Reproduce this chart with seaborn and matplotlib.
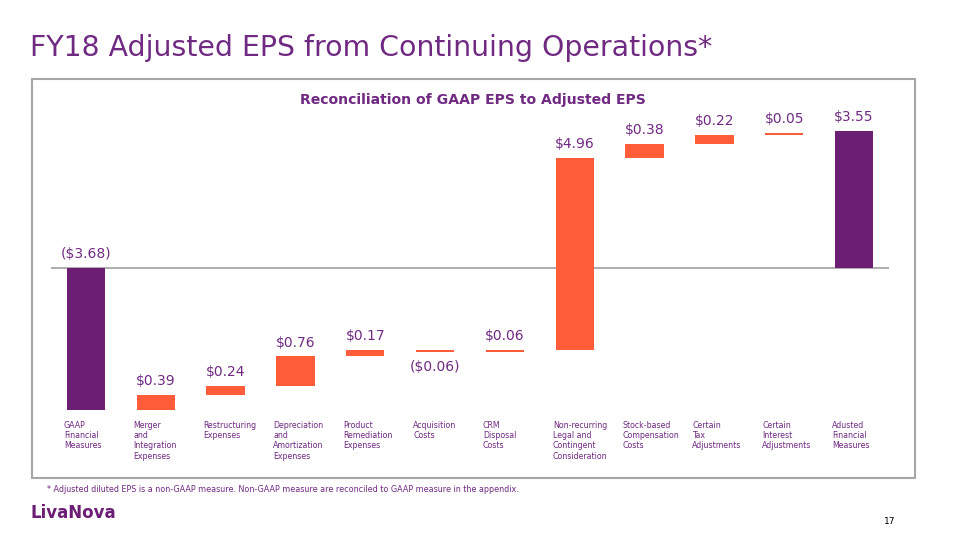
import numpy as np
import pandas as pd
import matplotlib
matplotlib.use("Agg")
import matplotlib.pyplot as plt
import matplotlib.transforms as mtransforms
from matplotlib.patches import Rectangle
import seaborn as sns

# ---------------- data ----------------
categories = [
    "GAAP\nFinancial\nMeasures",
    "Merger\nand\nIntegration\nExpenses",
    "Restructuring\nExpenses",
    "Depreciation\nand\nAmortization\nExpenses",
    "Product\nRemediation\nExpenses",
    "Acquisition\nCosts",
    "CRM\nDisposal\nCosts",
    "Non-recurring\nLegal and\nContingent\nConsideration",
    "Stock-based\nCompensation\nCosts",
    "Certain\nTax\nAdjustments",
    "Certain\nInterest\nAdjustments",
    "Adusted\nFinancial\nMeasures",
]
values = [-3.68, 0.39, 0.24, 0.76, 0.17, -0.06, 0.06, 4.96, 0.38, 0.22, 0.05, 3.55]
kinds = ["total", "delta", "delta", "delta", "delta", "delta",
         "delta", "delta", "delta", "delta", "delta", "total"]
value_labels = ["($3.68)", "$0.39", "$0.24", "$0.76", "$0.17", "($0.06)",
                "$0.06", "$4.96", "$0.38", "$0.22", "$0.05", "$3.55"]

# ---------------- styling ----------------
PURPLE = "#6C1D74"
TEXT_PURPLE = "#702A82"
ORANGE = "#FF5C3A"
GRAY = "#A6A6A6"

sns.set_theme(style="white")
plt.rcParams["font.family"] = ["DejaVu Sans"]

# waterfall bottoms
bottoms = []
running = 0.0
for v, k in zip(values, kinds):
    if k == "total":
        bottoms.append(0.0)
        running = v
    else:
        bottoms.append(running)
        running += v

df = pd.DataFrame({"category": categories, "value": values, "bottom": bottoms})

fig = plt.figure(figsize=(9.58, 5.4), dpi=100)
W, H = 958, 540

ax = fig.add_axes([51 / W, 1 - 415 / H, (889 - 51) / W, (415 - 110) / H])
ax.set_facecolor("none")

sns.barplot(data=df, x="category", y="value", bottom=df["bottom"].values,
            order=categories, color=ORANGE, width=0.55, errorbar=None,
            saturation=1, linewidth=0, ax=ax)

for patch, k in zip(ax.patches, kinds):
    patch.set_facecolor(PURPLE if k == "total" else ORANGE)
    patch.set_edgecolor("none")

ax.axhline(0, color=GRAY, lw=1.3, zorder=0)
ax.set_xlim(-0.5, len(categories) - 0.5)
ax.set_ylim(-3.808, 4.093)
ax.set_xlabel("")
ax.set_ylabel("")
ax.set_yticks([])
for s in ax.spines.values():
    s.set_visible(False)

# category labels, left aligned near the bar's left edge
ax.set_xticks(range(len(categories)))
ax.set_xticklabels(categories, ha="left", va="top", fontsize=5.7,
                   color=TEXT_PURPLE, linespacing=1.2)
ax.tick_params(axis="x", length=0, pad=4)
shift = mtransforms.ScaledTranslation(-22 / 100, 0, fig.dpi_scale_trans)
for lab in ax.get_xticklabels():
    lab.set_transform(lab.get_transform() + shift)

# value labels
for i, (v, b, k, lab) in enumerate(zip(values, bottoms, kinds, value_labels)):
    lo, hi = min(b, b + v), max(b, b + v)
    if k == "total" or v >= 0:
        ax.annotate(lab, xy=(i, hi), xytext=(0, 10), textcoords="offset points",
                    ha="center", va="center", fontsize=10, color=TEXT_PURPLE)
    else:
        ax.annotate(lab, xy=(i, lo), xytext=(0, -11), textcoords="offset points",
                    ha="center", va="center", fontsize=10, color=TEXT_PURPLE)

# frame box
fig.add_artist(Rectangle((32 / W, 1 - 478 / H), (915 - 32) / W, (478 - 79) / H,
                         transform=fig.transFigure, fill=False,
                         edgecolor=GRAY, lw=1.5))

# titles and notes
fig.text(30 / W, 1 - 48 / H, "FY18 Adjusted EPS from Continuing Operations*",
         ha="left", va="center", fontsize=20.4, color=TEXT_PURPLE)
fig.text(473 / W, 1 - 100 / H, "Reconciliation of GAAP EPS to Adjusted EPS",
         ha="center", va="center", fontsize=10.1, fontweight="bold", color=TEXT_PURPLE)
fig.text(47 / W, 1 - 489 / H,
         "* Adjusted diluted EPS is a non-GAAP measure. Non-GAAP measure are reconciled to GAAP measure in the appendix.",
         ha="left", va="center", fontsize=5.8, color=TEXT_PURPLE)
fig.text(30 / W, 1 - 513 / H, "LivaNova", ha="left", va="center",
         fontsize=12, fontweight="bold", color=PURPLE)
fig.text(890 / W, 1 - 522 / H, "17", ha="center", va="center",
         fontsize=6.5, color="black")

fig.savefig("out.png", dpi=100)
